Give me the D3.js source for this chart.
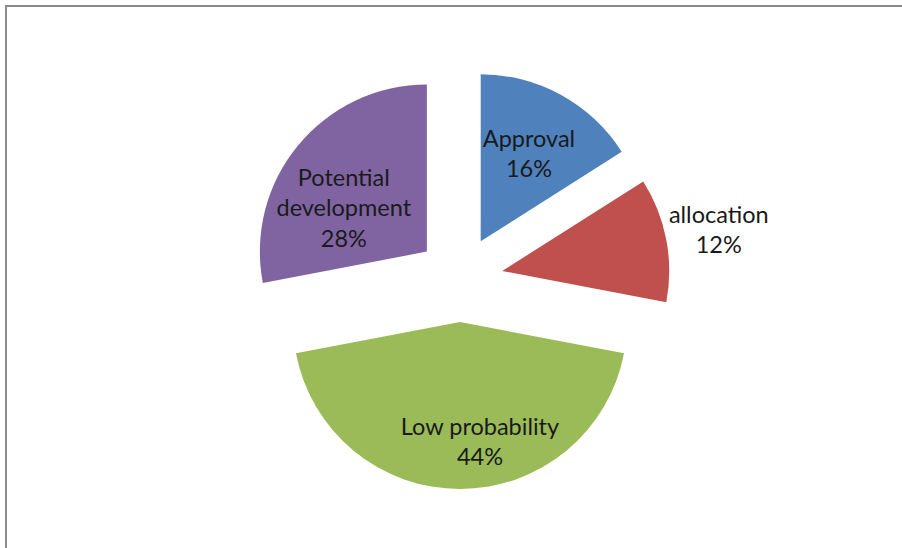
<!DOCTYPE html>
<html>
<head>
<meta charset="utf-8">
<script src="https://cdn.jsdelivr.net/npm/d3@7"></script>
<style>
  html, body { margin: 0; padding: 0; background: #fff; }
  svg { display: block; }
</style>
</head>
<body>
<svg width="902" height="548"></svg>
<script>
// --- Data ---
const categories = ["Approval", "allocation", "Low probability", "Potential development"];
const shares = [16, 12, 44, 28];
const sliceColors = ["#4f81bd", "#c0504d", "#9bbb59", "#8064a2"];

// label layout: distance from slice apex as fraction of radius, plus small nudges
const labelDist = [0.6, 1.32, 0.73, 0.56];
const labelNudge = [[0, 0], [0, 0], [20, -2], [-11, 16]];
const labelLines = [["Approval"], ["allocation"], ["Low probability"], ["Potential", "development"]];

// --- Setup ---
const svg = d3.select("svg"),
      width = +svg.attr("width"),
      height = +svg.attr("height");

// chart area border (top + left only visible)
svg.append("line").attr("x1", 5.5).attr("y1", 6).attr("x2", width).attr("y2", 6)
   .attr("stroke", "#8c8c8c").attr("stroke-width", 2);
svg.append("line").attr("x1", 6).attr("y1", 5).attr("x2", 6).attr("y2", height)
   .attr("stroke", "#8c8c8c").attr("stroke-width", 2);

const cx = 460, cy = 279, radius = 167, explode = 43;

const pie = d3.pie().sort(null).value(d => d);
const arcs = pie(shares);
const arc = d3.arc().innerRadius(0).outerRadius(radius);

const g = svg.append("g").attr("transform", `translate(${cx},${cy})`);

function offset(d, dist){
  const a = (d.startAngle + d.endAngle) / 2;
  return [Math.sin(a) * dist, -Math.cos(a) * dist];
}

// --- Slices ---
g.selectAll("path.slice")
  .data(arcs)
  .enter().append("path")
    .attr("class", "slice")
    .attr("d", arc)
    .attr("fill", (d, i) => sliceColors[i])
    .attr("transform", d => `translate(${offset(d, explode)})`);

// --- Labels ---
const lineH = 30.5;
arcs.forEach((d, i) => {
  const [ox, oy] = offset(d, explode);
  const [lx, ly] = offset(d, radius * labelDist[i]);
  const x = ox + lx + labelNudge[i][0];
  const y = oy + ly + labelNudge[i][1];
  const lines = labelLines[i].concat([shares[i] + "%"]);
  const t = g.append("text")
    .attr("x", x)
    .attr("text-anchor", "middle")
    .attr("font-family", "Lato, 'Open Sans', sans-serif")
    .attr("font-size", "23.5px")
    .attr("fill", "#1a1a1a");
  lines.forEach((s, j) => {
    t.append("tspan")
      .attr("x", x)
      .attr("y", y + (j - (lines.length - 1) / 2) * lineH)
      .attr("dy", "0.35em")
      .text(s);
  });
});
</script>
</body>
</html>
